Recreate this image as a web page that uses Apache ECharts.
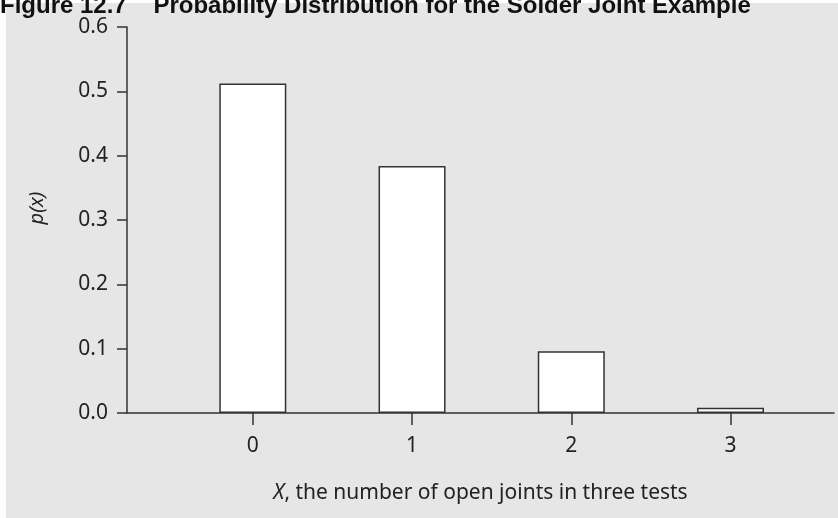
<!DOCTYPE html>
<html>
<head>
<meta charset="utf-8">
<script src="https://cdn.jsdelivr.net/npm/echarts@6/dist/echarts.min.js"></script>
<style>
html,body{margin:0;padding:0;background:#ffffff;}
#chart{width:838px;height:518px;}
</style>
</head>
<body>
<div id="chart"></div>
<script>
const titleText = 'Figure 12.7    Probability Distribution for the Solder Joint Example';
const xNameVar = 'X';
const xNameRest = ', the number of open joints in three tests';
const yName = 'p(x)';
const categories = [0, 1, 2, 3];
const probabilities = [0.512, 0.384, 0.096, 0.008];

const FONT = '"Noto Sans"';
const chart = echarts.init(document.getElementById('chart'));
chart.setOption({
  backgroundColor: '#ffffff',
  animation: false,
  graphic: [
    { type: 'rect', left: 6, top: 3, z: -10, shape: { width: 832, height: 515 }, style: { fill: '#e6e6e6' } },
    { type: 'text', left: 0, top: -6, z: 10, style: { text: titleText, font: 'bold 24px "Liberation Sans"', fill: '#111' } }
  ],
  grid: { left: 127, right: 4, top: 27, bottom: 105, containLabel: false },
  xAxis: {
    type: 'value',
    min: -0.79,
    max: 3.65,
    name: '{i|' + xNameVar + '}' + xNameRest,
    nameLocation: 'middle',
    nameGap: 70,
    nameTextStyle: {
      fontFamily: FONT, fontSize: 21, color: '#222',
      rich: { i: { fontFamily: FONT, fontSize: 21, fontStyle: 'italic', color: '#222' } }
    },
    axisLine: { show: true, onZero: false, lineStyle: { color: '#333', width: 1.5 } },
    axisTick: { show: true, length: 12, inside: false, customValues: categories, lineStyle: { color: '#333', width: 1.5 } },
    axisLabel: { customValues: categories, margin: 23, fontFamily: FONT, fontSize: 21, color: '#222', formatter: v => String(v) },
    splitLine: { show: false }
  },
  yAxis: {
    type: 'value',
    min: 0,
    max: 0.6,
    interval: 0.1,
    name: yName,
    nameLocation: 'middle',
    nameGap: 80,
    nameRotate: 90,
    nameTextStyle: { fontFamily: FONT, fontSize: 20, fontStyle: 'italic', color: '#222', padding: [0, 0, 0, 24] },
    axisLine: { show: true, onZero: false, lineStyle: { color: '#333', width: 1.5 } },
    axisTick: { show: true, length: 10, inside: false, lineStyle: { color: '#333', width: 1.5 } },
    axisLabel: { margin: 19, fontFamily: FONT, fontSize: 21, color: '#222', formatter: v => v.toFixed(1) },
    splitLine: { show: false }
  },
  series: [{
    type: 'bar',
    barWidth: 67,
    data: categories.map((c, i) => [c, probabilities[i]]),
    itemStyle: { color: '#ffffff', borderColor: '#333', borderWidth: 1.5 }
  }]
});
</script>
</body>
</html>
